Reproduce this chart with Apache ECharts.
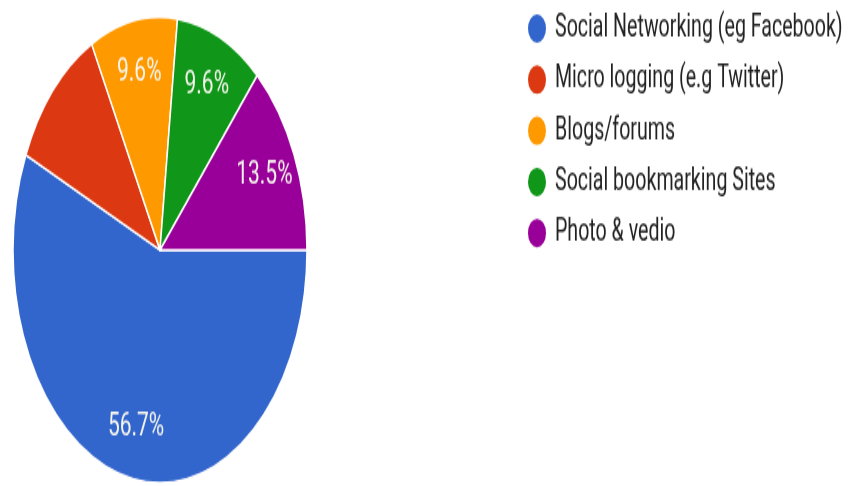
<!DOCTYPE html>
<html>
<head>
<meta charset="utf-8">
<title>Social media usage</title>
<script src="https://cdn.jsdelivr.net/npm/echarts@6/dist/echarts.min.js"></script>
<style>
  html, body { margin: 0; padding: 0; background: #ffffff; overflow: hidden; }
  #frame { width: 848px; height: 486px; overflow: hidden; }
  /* the chart is drawn at 848x307 and stretched to the full page height */
  #chart { width: 848px; height: 307px; transform: scaleY(1.58306); transform-origin: 0 0; }
</style>
</head>
<body>
<div id="frame"><div id="chart"></div></div>
<script>
// Platform categories and their share of responses (percent)
const categories = [
  'Social Networking (eg Facebook)',
  'Micro logging (e.g Twitter)',
  'Blogs/forums',
  'Social bookmarking Sites',
  'Photo & vedio'
];
const shares = [56.7, 10.6, 9.6, 9.6, 13.5];
// which slices carry a percentage label
const labelled = [true, false, true, true, true];
const colors = ['#3366cc', '#dc3912', '#ff9900', '#109618', '#990099'];

const FONT = 'Roboto, "Liberation Sans", sans-serif';
const CENTER = [160, 157.9];
const R = 147;

const sliceData = categories.map((name, i) => ({ name, value: shares[i] }));
const labelData = categories.map((name, i) => ({
  name,
  value: shares[i],
  label: { show: labelled[i] }
}));

const chart = echarts.init(document.getElementById('chart'), null, { renderer: 'canvas' });
chart.setOption({
  animation: false,
  color: colors,
  legend: {
    orient: 'vertical',
    left: 521,
    top: 2,
    icon: 'circle',
    itemWidth: 20,
    itemHeight: 20,
    itemGap: 10.3,
    selectedMode: false,
    data: categories,
    textStyle: {
      fontFamily: FONT,
      fontSize: 19.6,
      color: '#222222',
      padding: [0, 0, 0, 3]
    }
  },
  series: [
    {
      type: 'pie',
      center: CENTER,
      radius: [0, R],
      startAngle: 0,
      clockwise: true,
      silent: true,
      label: { show: false },
      labelLine: { show: false },
      itemStyle: { borderColor: '#ffffff', borderWidth: 1.5 },
      data: sliceData
    },
    {
      // transparent ring that only positions the percentage labels
      type: 'pie',
      center: CENTER,
      radius: [76, R],
      startAngle: 0,
      clockwise: true,
      silent: true,
      avoidLabelOverlap: false,
      itemStyle: { color: 'rgba(0,0,0,0)', borderWidth: 0 },
      label: {
        show: true,
        position: 'inside',
        formatter: '{c}%',
        fontFamily: FONT,
        fontSize: 21,
        color: '#f6f6ee'
      },
      labelLine: { show: false },
      data: labelData
    }
  ]
});
</script>
</body>
</html>
